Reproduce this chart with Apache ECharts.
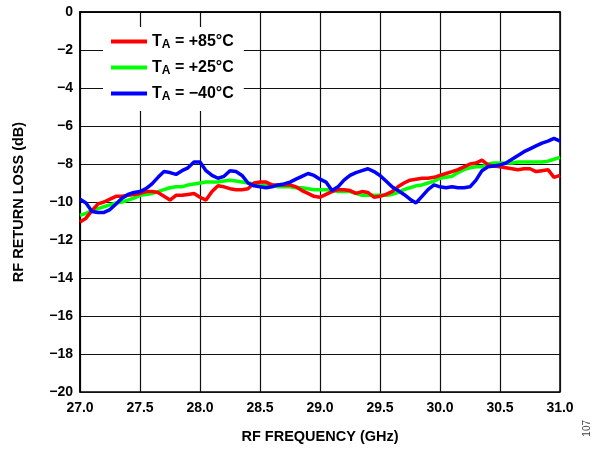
<!DOCTYPE html>
<html>
<head>
<meta charset="utf-8">
<script src="https://cdn.jsdelivr.net/npm/echarts@6/dist/echarts.min.js"></script>
<style>
html,body{margin:0;padding:0;background:#fff;}
#chart{width:595px;height:449px;}
</style>
</head>
<body>
<div id="chart"></div>
<script>
// Frequency sampling grid (GHz): 27.00 to 31.00 in 0.05 steps
var freqStart = 27.0, freqStep = 0.05;

var red85 = [-11.05,-10.85,-10.45,-10.1,-10.0,-9.85,-9.7,-9.7,-9.65,-9.6,-9.55,-9.45,-9.45,-9.5,-9.7,-9.9,-9.65,-9.65,-9.6,-9.55,
  -9.75,-9.9,-9.45,-9.15,-9.2,-9.3,-9.35,-9.35,-9.3,-9.0,-8.95,-8.95,-9.1,-9.1,-9.1,-9.1,-9.2,-9.4,-9.55,-9.7,
  -9.75,-9.6,-9.45,-9.35,-9.35,-9.4,-9.55,-9.45,-9.5,-9.75,-9.7,-9.6,-9.45,-9.2,-9.0,-8.85,-8.8,-8.75,-8.75,-8.7,
  -8.6,-8.5,-8.4,-8.3,-8.15,-8.0,-7.95,-7.8,-8.05,-8.1,-8.15,-8.2,-8.25,-8.3,-8.25,-8.25,-8.4,-8.35,-8.3,-8.7,-8.6];

var green25 = [-10.7,-10.6,-10.45,-10.35,-10.25,-10.15,-10.05,-10.0,-9.9,-9.8,-9.65,-9.6,-9.55,-9.45,-9.35,-9.25,-9.2,-9.2,-9.1,-9.05,
  -9.0,-8.95,-8.95,-8.95,-8.9,-8.85,-8.9,-8.95,-9.0,-9.05,-9.1,-9.1,-9.1,-9.2,-9.2,-9.2,-9.25,-9.25,-9.3,-9.35,
  -9.35,-9.35,-9.35,-9.45,-9.45,-9.45,-9.55,-9.65,-9.65,-9.65,-9.65,-9.65,-9.6,-9.5,-9.35,-9.25,-9.15,-9.1,-9.0,-8.9,
  -8.75,-8.7,-8.65,-8.45,-8.3,-8.2,-8.15,-8.15,-8.0,-7.95,-7.95,-7.95,-7.95,-7.9,-7.9,-7.9,-7.9,-7.9,-7.85,-7.75,-7.65];

var blueM40 = [-9.85,-10.05,-10.5,-10.55,-10.55,-10.4,-10.1,-9.8,-9.6,-9.5,-9.45,-9.3,-9.05,-8.7,-8.4,-8.45,-8.55,-8.35,-8.2,-7.9,
  -7.9,-8.35,-8.6,-8.75,-8.65,-8.35,-8.4,-8.6,-9.0,-9.15,-9.2,-9.25,-9.2,-9.1,-9.05,-8.95,-8.8,-8.65,-8.5,-8.6,
  -8.8,-8.95,-9.4,-9.2,-8.85,-8.6,-8.45,-8.35,-8.25,-8.4,-8.6,-8.9,-9.2,-9.4,-9.6,-9.85,-10.05,-9.7,-9.35,-9.1,
  -9.2,-9.25,-9.2,-9.25,-9.25,-9.2,-8.85,-8.35,-8.15,-8.1,-8.05,-7.95,-7.75,-7.55,-7.35,-7.2,-7.05,-6.9,-6.8,-6.65,-6.8];

var seriesNames = ['+85°C', '+25°C', '\u221240°C'];
var seriesColors = ['#ff0000', '#00ff00', '#0000ff'];

function pairs(vals) {
  return vals.map(function (v, i) { return [+(freqStart + i * freqStep).toFixed(2), v]; });
}

var chart = echarts.init(document.getElementById('chart'), null, {renderer: 'canvas'});
var font = 'Liberation Sans, Arial, sans-serif';

var allVals = [red85, green25, blueM40];
var zs = [3, 2, 4];
var series = allVals.map(function (vals, k) {
  return {
    name: seriesNames[k],
    type: 'line',
    data: pairs(vals),
    showSymbol: false,
    symbol: 'none',
    z: zs[k],
    lineStyle: {color: seriesColors[k], width: 3.5},
    itemStyle: {color: seriesColors[k]},
    animation: false
  };
});

chart.setOption({
  animation: false,
  backgroundColor: '#fff',
  grid: {left: 80, right: 35, top: 12, bottom: 57, show: true, borderColor: '#000', borderWidth: 1.5, containLabel: false},
  xAxis: {
    type: 'value', min: 27, max: 31, interval: 0.5,
    axisLine: {show: true, lineStyle: {color: '#000', width: 1.5}},
    axisTick: {show: false},
    splitLine: {show: true, lineStyle: {color: '#111', width: 1.2}},
    axisLabel: {color: '#000', fontFamily: font, fontWeight: 'bold', fontSize: 14, margin: 9,
      formatter: function (v) { return v.toFixed(1); }},
    name: 'RF FREQUENCY (GHz)', nameLocation: 'middle', nameGap: 37,
    nameTextStyle: {color: '#000', fontFamily: font, fontWeight: 'bold', fontSize: 14.5}
  },
  yAxis: {
    type: 'value', min: -20, max: 0, interval: 2,
    axisLine: {show: true, lineStyle: {color: '#000', width: 1.5}},
    axisTick: {show: false},
    splitLine: {show: true, lineStyle: {color: '#111', width: 1.2}},
    axisLabel: {color: '#000', fontFamily: font, fontWeight: 'bold', fontSize: 14, margin: 7,
      formatter: function (v) { return String(v).replace('-', '\u2212'); }},
    name: 'RF RETURN LOSS (dB)', nameLocation: 'middle', nameGap: 54,
    nameTextStyle: {color: '#000', fontFamily: font, fontWeight: 'bold', fontSize: 14.5}
  },
  legend: {
    show: true,
    data: seriesNames,
    orient: 'vertical',
    left: 103, top: 27,
    padding: [5, 10, 8, 8],
    itemGap: 7,
    itemWidth: 36, itemHeight: 4,
    icon: 'rect',
    backgroundColor: '#fff',
    selectedMode: false,
    formatter: function (name) { return '{t|T}{s|A}{t| = ' + name + '}'; },
    textStyle: {
      color: '#000', fontFamily: font, fontWeight: 'bold', fontSize: 16,
      rich: {
        t: {fontFamily: font, fontWeight: 'bold', fontSize: 16, color: '#000', lineHeight: 18},
        s: {fontFamily: font, fontWeight: 'bold', fontSize: 12, color: '#000', padding: [7, 0, 0, 0], lineHeight: 18}
      }
    }
  },
  graphic: [{
    type: 'text', left: 582, top: 420, rotation: Math.PI / 2,
    style: {text: '107', fill: '#444', font: '10px ' + font}
  }],
  series: series
});
</script>
</body>
</html>
